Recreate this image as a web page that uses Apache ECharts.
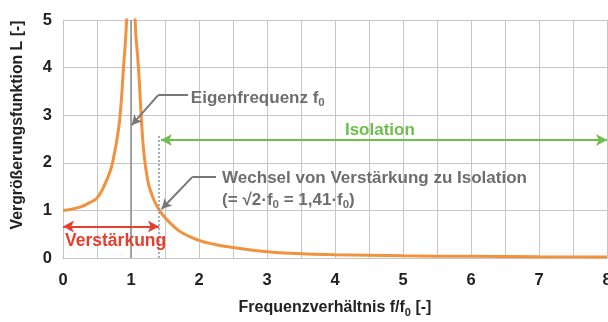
<!DOCTYPE html>
<html>
<head>
<meta charset="utf-8">
<script src="https://cdn.jsdelivr.net/npm/echarts@6.0.0/dist/echarts.min.js"></script>
<style>
html,body{margin:0;padding:0;background:#fff;}
#main{width:608px;height:322px;}
</style>
</head>
<body>
<div id="main"></div>
<script>
// Frequency ratio f/f0 and magnification L
var freqRatio = [0, 0.25, 0.4, 0.5, 0.6, 0.7, 0.75, 0.8, 0.84, 0.89, 0.935, 0.97, 1.0, 1.03, 1.06, 1.11, 1.15, 1.19, 1.25, 1.3, 1.35, 1.42, 1.5, 1.6, 1.75, 2.0, 2.25, 2.5, 3.0, 3.5, 4, 5, 6, 7, 8];
var magnification = [1.0, 1.07, 1.17, 1.26, 1.5, 1.85, 2.15, 2.55, 3.0, 4.0, 5.0, 7.0, 8.0, 7.0, 5.0, 4.0, 3.0, 2.2, 1.6, 1.36, 1.18, 1.0, 0.85, 0.7, 0.53, 0.37, 0.28, 0.22, 0.13, 0.09, 0.07, 0.045, 0.035, 0.025, 0.02];
var xTicks = [0, 1, 2, 3, 4, 5, 6, 7, 8];
var yTicks = [0, 1, 2, 3, 4, 5];
var eigenFreq = 1.0;
var crossover = 1.41;

var curve = freqRatio.map(function (r, i) { return [r, magnification[i]]; });

var font = '"Liberation Sans", Arial, sans-serif';
var grayTxt = '#6e6e6e';
var orange = '#f0923e';
var green = '#6cbf4a';
var red = '#e5402f';
var gridColor = '#c6c6c6';

var chart = echarts.init(document.getElementById('main'), null, {renderer: 'canvas'});
chart.setOption({
  animation: false,
  backgroundColor: '#fff',
  grid: {left: 63, right: 1, top: 20, bottom: 64, containLabel: false, outerBoundsMode: 'none'},
  xAxis: {
    type: 'value', min: xTicks[0], max: xTicks[xTicks.length - 1], interval: 1,
    axisLine: {show: true, lineStyle: {color: gridColor, width: 1}},
    axisTick: {show: false},
    splitLine: {show: true, lineStyle: {color: gridColor, width: 1}},
    minorTick: {show: false, splitNumber: 2},
    minorSplitLine: {show: true, lineStyle: {color: gridColor, width: 1}},
    axisLabel: {color: '#222', fontFamily: font, fontWeight: 'bold', fontSize: 16.5, margin: 14},
    name: 'Frequenzverhältnis f/f{s|0} [-]',
    nameLocation: 'middle', nameGap: 40,
    nameTextStyle: {
      color: '#222', fontFamily: font, fontWeight: 'bold', fontSize: 16, lineHeight: 20,
      rich: {s: {fontSize: 11, fontFamily: font, fontWeight: 'bold', color: '#222', verticalAlign: 'bottom', lineHeight: 11}}
    }
  },
  yAxis: {
    type: 'value', min: yTicks[0], max: yTicks[yTicks.length - 1], interval: 1,
    axisLine: {show: true, lineStyle: {color: gridColor, width: 1}},
    axisTick: {show: false},
    splitLine: {show: true, lineStyle: {color: gridColor, width: 1}},
    axisLabel: {color: '#222', fontFamily: font, fontWeight: 'bold', fontSize: 16.5, margin: 11}
  },
  graphic: [{
    type: 'text', x: 18, y: 125, rotation: Math.PI / 2,
    style: {text: 'Vergrößerungsfunktion L [-]', fill: '#222', font: 'bold 15.8px ' + font, align: 'center', verticalAlign: 'middle'}
  }],
  series: [
    {
      // reference lines
      type: 'line', data: [], z: 1, silent: true,
      markLine: {
        silent: true, animation: false,
        label: {show: false},
        data: [
          [{coord: [eigenFreq, 0], symbol: 'none', lineStyle: {color: '#8c8c8c', width: 1.5, type: 'solid'}},
           {coord: [eigenFreq, 5], symbol: 'none'}],
          [{coord: [crossover, 0], symbol: 'none', lineStyle: {color: '#8a96a6', width: 1.5, type: [2, 2]}},
           {coord: [crossover, 2.58], symbol: 'none'}]
        ]
      }
    },
    {
      type: 'line', data: curve, z: 3,
      showSymbol: false, symbol: 'none',
      smooth: 0.5, clip: true,
      lineStyle: {color: orange, width: 3}
    },
    {
      // annotations
      type: 'line', data: [], z: 4, silent: true,
      markLine: {
        silent: true, animation: false,
        label: {show: false},
        symbolSize: [9, 11],
        data: [
          [{coord: [0.0, 0.66], symbol: 'arrow', lineStyle: {color: red, width: 2, type: 'solid'}},
           {coord: [crossover, 0.66], symbol: 'arrow'}],
          [{coord: [1.44, 2.48], symbol: 'arrow', lineStyle: {color: green, width: 2, type: 'solid'}},
           {coord: [8.0, 2.48], symbol: 'arrow'}],
          [{coord: [1.84, 3.42], symbol: 'none', lineStyle: {color: '#777', width: 2, type: 'solid'}},
           {coord: [1.40, 3.42], symbol: 'none'}],
          [{coord: [1.40, 3.42], symbol: 'none', lineStyle: {color: '#777', width: 2, type: 'solid'}},
           {coord: [1.01, 2.79], symbol: 'arrow', symbolSize: [8, 10]}],
          [{coord: [2.25, 1.70], symbol: 'none', lineStyle: {color: '#777', width: 2, type: 'solid'}},
           {coord: [1.90, 1.70], symbol: 'none'}],
          [{coord: [1.90, 1.70], symbol: 'none', lineStyle: {color: '#777', width: 2, type: 'solid'}},
           {coord: [1.45, 1.03], symbol: 'arrow', symbolSize: [8, 10]}]
        ]
      },
      markPoint: {
        silent: true, animation: false,
        symbol: 'circle', symbolSize: 0,
        data: [
          {coord: [1.88, 3.35], label: {show: true, position: 'right', distance: 0,
            formatter: 'Eigenfrequenz f{s|0}',
            color: grayTxt, fontFamily: font, fontWeight: 'bold', fontSize: 17, lineHeight: 20,
            rich: {s: {fontSize: 11.5, fontFamily: font, fontWeight: 'bold', color: grayTxt, verticalAlign: 'bottom', lineHeight: 12}}}},
          {coord: [4.66, 2.69], label: {show: true, position: 'inside', distance: 0,
            formatter: 'Isolation',
            color: green, fontFamily: font, fontWeight: 'bold', fontSize: 17}},
          {coord: [2.34, 1.45], label: {show: true, position: 'right', distance: 0,
            formatter: 'Wechsel von Verstärkung zu Isolation\n(= √2·f{s|0} = 1,41·f{s|0})',
            color: grayTxt, fontFamily: font, fontWeight: 'bold', fontSize: 17, lineHeight: 22,
            rich: {s: {fontSize: 11.5, fontFamily: font, fontWeight: 'bold', color: grayTxt, verticalAlign: 'bottom', lineHeight: 14}}}},
          {coord: [0.03, 0.36], label: {show: true, position: 'right', distance: 0,
            formatter: 'Verstärkung',
            color: red, fontFamily: font, fontWeight: 'bold', fontSize: 17.5}}
        ]
      }
    }
  ]
});
</script>
</body>
</html>
